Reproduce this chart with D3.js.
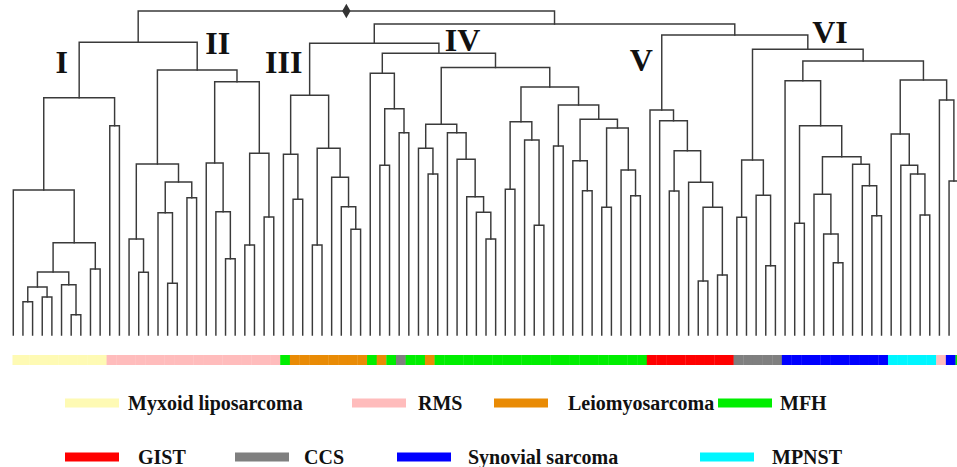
<!DOCTYPE html>
<html>
<head>
<meta charset="utf-8">
<script src="https://cdn.jsdelivr.net/npm/d3@7"></script>
<style>
  html, body { margin: 0; padding: 0; background: #fff; }
  svg { display: block; }
</style>
</head>
<body>
<svg id="chart" width="957" height="467"></svg>
<script>
// ---------- DATA ----------
// Tumour categories (legend order)
const categories = ["Myxoid liposarcoma", "RMS", "Leiomyosarcoma", "MFH",
                    "GIST", "CCS", "Synovial sarcoma", "MPNST"];
const categoryColors = ["#fefab4", "#ffbcbc", "#e98b05", "#00ee00",
                        "#ff0000", "#7f7f7f", "#0000ff", "#00f6ff"];

// Category index of every leaf (left to right)
const leafClass = [
  0,0,0,0,0,0,0,0,0,0,
  1,1,1,1,1,1,1,1,1,1,1,1,1,1,1,1,1,1,
  3,
  2,2,2,2,2,2,2,2,
  3,2,3,5,3,3,2,
  3,3,3,3,3,3,3,3,3,3,3,3,3,3,3,3,3,3,3,3,3,3,
  4,4,4,4,4,4,4,4,4,
  5,5,5,5,5,
  6,6,6,6,6,6,6,6,6,6,6,
  7,7,7,7,7,
  1,
  6,
  3
];

// Cluster tree: [mergeHeight, left, right]; integers are leaf indices
const tree =
[324,
  [292.7,
    [237.3,
      [145, 0, [92.3, [63, [48, [33.3, 1, 2], [38, 3, 4]], [50.3, 5, [20.3, 6, 7]]], [66, 8, 9]]],
      [209.3, 10, 11]],
    [265,
      [171, [96, 12, [62.7, 13, 14]], [153, [122.3, 15, [51.7, 16, 17]], [137.3, 18, 19]]],
      [253.3, [172, 20, [123.3, 21, [76.3, 22, 23]]], [181.7, [90, 24, 25], [118, 26, 27]]]]],
  [311,
    [291.7,
      [239.7, [180.7, 28, [135.7, 29, 30]], [186.7, [90, 31, 32], [157.7, 33, [128.3, 34, [105.7, 35, 36]]]]],
      [281.7,
        [261.7, 37, [226.3, [169.7, 38, 39], [202.3, 40, 41]]],
        [267.5,
          [210.8, [186.7, 42, [161, 43, 44]], [202.3, 45, [175.7, 46, [138.3, 47, [122.7, 48, [96, 49, 50]]]]]],
          [248, [213.3, [145.7, 51, 52], [195, 53, [109.7, 54, 55]]],
                [230, [189, 56, 57], [215.7, [174.3, 58, [144.3, 59, 60]], [207, [127.7, 61, 62], [165, 63, [139.3, 64, 65]]]]]]]]],
    [300,
      [225, 66, [214.3, 67, [184.3, [144, 68, 69], [152.7, 70, [127.7, [54, 71, 72], [60, 73, 74]]]]]],
      [285.7,
        [175, [117.7, 75, 76], [139.7, 77, [69.3, 78, 79]]],
        [274,
          [254.3, 80, [209.3, [111.7, 81, 82], [178.3, [140.7, 83, [101, 84, [72.3, 85, 86]]], [170.7, 87, [149.3, 88, [119.3, 89, 90]]]]]],
          [255, [201, 91, [169.7, 92, [161, 93, [120, 94, 95]]]], [235, 96, [154, 97, 98]]]]]]]];

// Cluster labels
const clusterNames = ["I", "II", "III", "IV", "V", "VI"];

// ---------- LAYOUT ----------
const svg = d3.select("#chart");
const W = 957, H = 467;
svg.append("rect").attr("width", W).attr("height", H).attr("fill", "#fff");

const nLeaves = leafClass.length;
const x = d3.scaleLinear().domain([0, nLeaves - 1]).range([13.3, 13.3 + 9.647 * (nLeaves - 1)]);
const y = d3.scaleLinear().domain([0, 324]).range([335, 11]);
const color = d3.scaleOrdinal().domain(categories).range(categoryColors);

const root = d3.hierarchy(tree, d => Array.isArray(d) ? d.slice(1) : null);
root.eachAfter(n => {
  if (n.children) {
    n.px = (n.children[0].px + n.children[1].px) / 2;
    n.py = y(n.data[0]);
  } else {
    n.px = x(n.data);
    n.py = y(0);
  }
});

const g = svg.append("g")
  .attr("fill", "none")
  .attr("stroke", "#3a3a3a")
  .attr("stroke-width", 1.45)
  .attr("stroke-linecap", "square");

const internal = root.descendants().filter(n => n.children);
g.selectAll("path.link")
  .data(internal)
  .join("path")
  .attr("class", "link")
  .attr("d", n => {
    const [a, b] = n.children;
    return `M${a.px},${a.py}V${n.py}H${b.px}V${b.py}`;
  });

// root marker
svg.append("path")
  .attr("d", d3.symbol(d3.symbolDiamond, 60)())
  .attr("transform", `translate(${root.px},${root.py})`)
  .attr("fill", "#333");

// cluster labels
const labelPos = [[61.7, 72.7], [217.7, 54.3], [283.7, 72.7], [462.5, 50.7], [641.3, 71], [830, 43.3]];
svg.selectAll("text.cl")
  .data(clusterNames)
  .join("text")
  .attr("class", "cl")
  .attr("x", (d, i) => labelPos[i][0])
  .attr("y", (d, i) => labelPos[i][1])
  .attr("text-anchor", "middle")
  .attr("font-family", "'Liberation Serif', 'Times New Roman', serif")
  .attr("font-weight", "bold")
  .attr("font-size", 32)
  .attr("fill", "#111")
  .text(d => d);

// colour bar
const step = x(1) - x(0);
svg.append("g").selectAll("rect")
  .data(leafClass)
  .join("rect")
  .attr("x", (d, i) => Math.max(12.5, x(i) - 3.2))
  .attr("width", (d, i) => x(i) - 3.2 + step + 0.3 - Math.max(12.5, x(i) - 3.2))
  .attr("y", 355)
  .attr("height", 10)
  .attr("fill", d => categoryColors[d]);

// legend
const legendPos = [
  { sx: 65, tx: 128, y: 403 }, { sx: 352, tx: 418, y: 403 }, { sx: 494, tx: 568, y: 403 }, { sx: 718, tx: 780, y: 403 },
  { sx: 65, tx: 138, y: 457 }, { sx: 235, tx: 304, y: 457 }, { sx: 397, tx: 468, y: 457 }, { sx: 700, tx: 772, y: 457 }
];
const lg = svg.append("g");
lg.selectAll("rect")
  .data(categories)
  .join("rect")
  .attr("x", (d, i) => legendPos[i].sx)
  .attr("y", (d, i) => legendPos[i].y - 4.5)
  .attr("width", 54)
  .attr("height", 9)
  .attr("fill", d => color(d));
lg.selectAll("text")
  .data(categories)
  .join("text")
  .attr("x", (d, i) => legendPos[i].tx)
  .attr("y", (d, i) => legendPos[i].y + 7)
  .attr("font-family", "'Liberation Serif', 'Times New Roman', serif")
  .attr("font-weight", "bold")
  .attr("font-size", 20)
  .attr("fill", "#111")
  .text(d => d);
</script>
</body>
</html>
